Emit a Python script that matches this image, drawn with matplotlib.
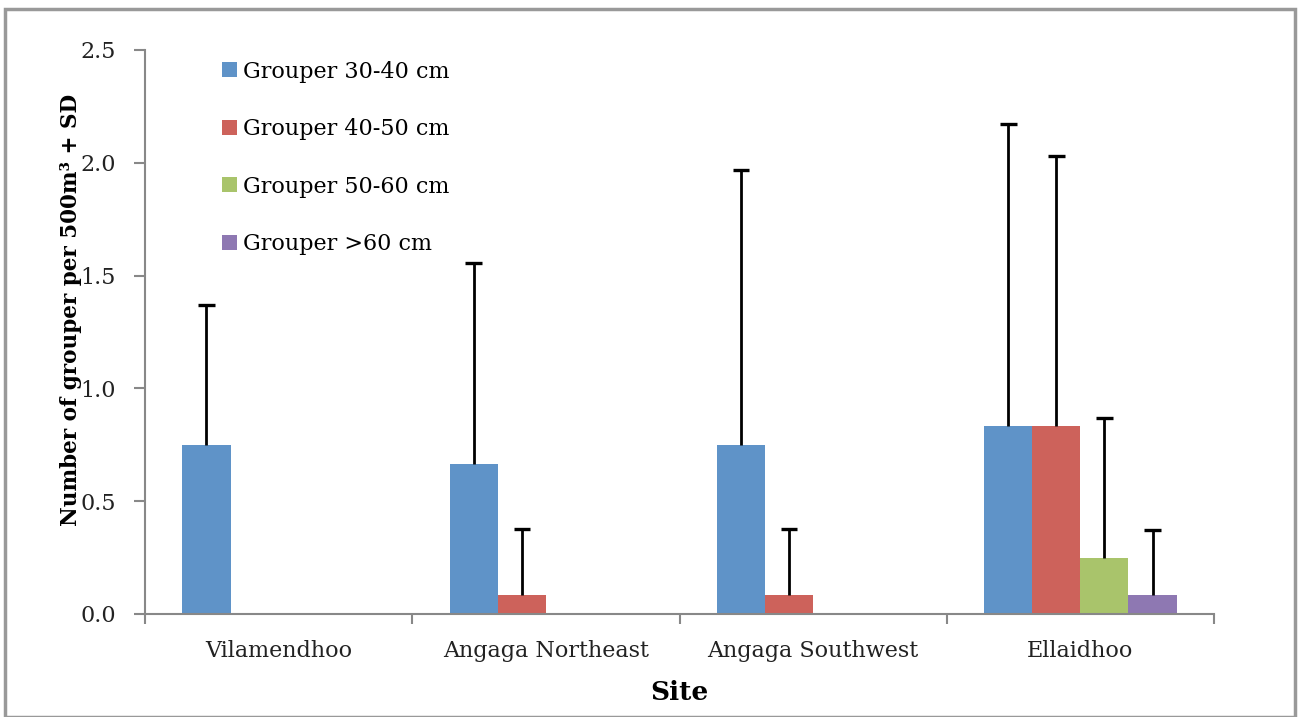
import matplotlib
matplotlib.use("Agg")
import matplotlib.pyplot as plt
import numpy as np
from matplotlib.patches import Rectangle

sites = ["Vilamendhoo", "Angaga Northeast", "Angaga Southwest", "Ellaidhoo"]
series = ["Grouper 30-40 cm", "Grouper 40-50 cm", "Grouper 50-60 cm", "Grouper >60 cm"]
means = [
    [0.75, 0.667, 0.75, 0.833],
    [0.0, 0.083, 0.083, 0.833],
    [0.0, 0.0, 0.0, 0.25],
    [0.0, 0.0, 0.0, 0.083],
]
sds = [
    [0.62, 0.89, 1.22, 1.34],
    [0.0, 0.295, 0.295, 1.195],
    [0.0, 0.0, 0.0, 0.62],
    [0.0, 0.0, 0.0, 0.29],
]
colors = ["#5f93c8", "#cd625b", "#a9c46b", "#8e78b2"]
yticks = [0.0, 0.5, 1.0, 1.5, 2.0, 2.5]

plt.rcParams['font.family'] = ['DejaVu Serif', 'Liberation Serif']

fig = plt.figure(figsize=(12.98, 7.17), dpi=100)
ax = fig.add_axes([145/1298, 1-614/717, (1214-145)/1298, (614-50)/717])

x = np.arange(len(sites))
w = 0.18
capw = 0.031
for j, (name, m, s, c) in enumerate(zip(series, means, sds, colors)):
    pos = x + (j - 1.5) * w
    m = np.array(m); s = np.array(s)
    ax.bar(pos, m, width=w, color=c, label=name, zorder=2)
    mask = s > 0
    top = m[mask] + s[mask]
    ax.vlines(pos[mask], m[mask], top, colors='black', linewidth=2.0, zorder=3)
    ax.hlines(top, pos[mask] - capw, pos[mask] + capw, colors='black', linewidth=2.4, zorder=3)

ax.set_xlim(-0.5, len(sites) - 0.5)
ax.set_ylim(0, 2.5)
ax.set_yticks(yticks)
ax.set_yticklabels([f"{t:.1f}" for t in yticks])
ax.set_xticks(x)
ax.set_xticklabels(sites)
ax.set_xticks(np.arange(len(sites) + 1) - 0.5, minor=True)
ax.tick_params(axis='x', which='major', length=0, pad=19, labelsize=16, colors='#222222')
ax.tick_params(axis='x', which='minor', length=7, width=1.5, color='#888888', direction='out')
ax.tick_params(axis='y', length=8, width=1.5, color='#888888', labelsize=16, labelcolor='#222222', pad=13)
for sp in ['top', 'right']:
    ax.spines[sp].set_visible(False)
for sp in ['left', 'bottom']:
    ax.spines[sp].set_color('#888888')
    ax.spines[sp].set_linewidth(1.5)

ax.set_ylabel("Number of grouper per 500m³ + SD", fontsize=15.5, fontweight='bold')
ax.yaxis.set_label_coords(-0.059, 0.539)
ax.set_xlabel("Site", fontsize=19, fontweight='bold', labelpad=13)

leg = ax.legend(loc='upper left', bbox_to_anchor=(0.064, 0.997), frameon=False, fontsize=16,
                handlelength=0.65, handleheight=0.65, handletextpad=0.3, labelspacing=1.6,
                borderaxespad=0.0)

fig.patches.append(Rectangle((5/1298, 0), (1295-5)/1298, 1-9/717, transform=fig.transFigure,
                             fill=False, edgecolor='#999999', linewidth=2.5))

fig.savefig("out.png", dpi=100)
